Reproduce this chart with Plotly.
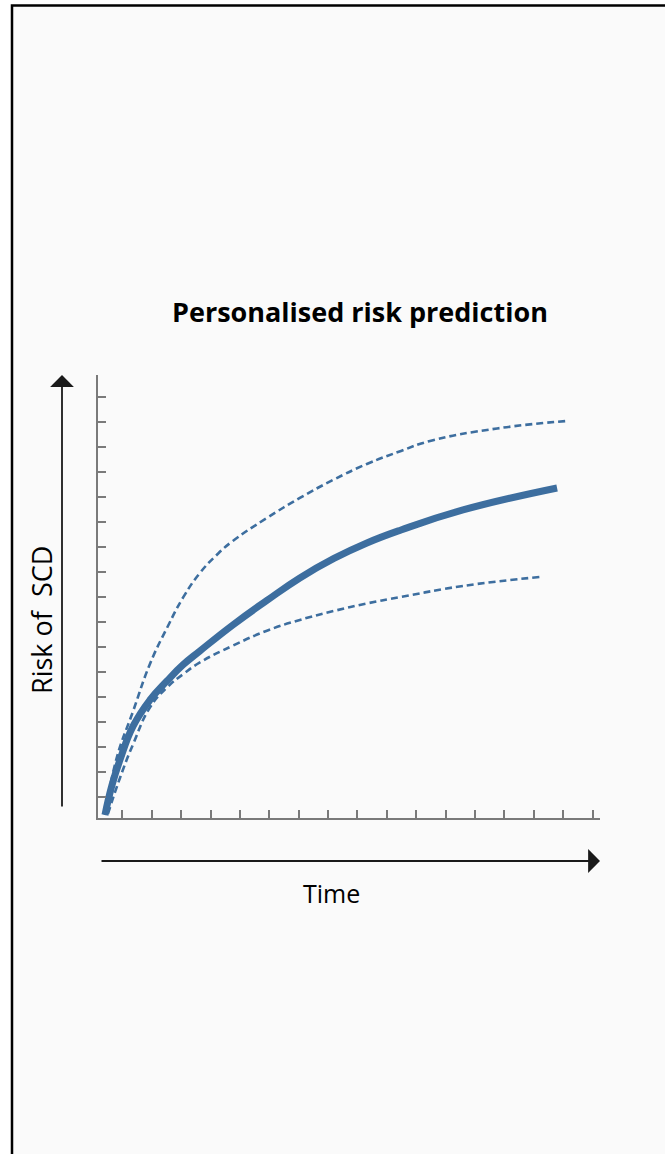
import plotly.graph_objects as go

# Time (tick units) and risk (tick units)
t_mid = [-0.59, -0.35, -0.08, 0.37, 0.94, 1.52, 2.06, 2.64, 3.76, 4.92, 6.04, 7.2, 8.32, 9.48, 11.59, 14.79]
r_mid = [-0.73, 0.47, 1.47, 2.83, 3.87, 4.63, 5.27, 5.83, 6.87, 7.85, 8.75, 9.53, 10.15, 10.67, 11.47, 12.35]

t_up = [-0.59, -0.19, 0.37, 0.94, 1.52, 2.08, 2.64, 3.21, 3.76, 4.92, 6.04, 7.17, 8.32, 9.48, 10.47, 12.75, 15.16]
r_up = [-0.73, 1.55, 3.43, 5.31, 6.75, 7.99, 8.95, 9.67, 10.23, 11.15, 11.95, 12.67, 13.31, 13.83, 14.23, 14.73, 15.03]

t_lo = [-0.49, -0.08, 0.37, 0.94, 1.52, 2.08, 2.64, 3.76, 4.92, 6.04, 7.2, 8.32, 9.48, 11.59, 14.21]
r_lo = [-0.69, 0.75, 2.11, 3.57, 4.37, 4.91, 5.37, 6.04, 6.64, 7.07, 7.43, 7.73, 7.99, 8.43, 8.79]

x_ticks = list(range(0, 17))
y_ticks = list(range(0, 17))

title_text = "Personalised risk prediction"
x_label = "Time"
y_label = "Risk of  SCD"

BLUE = "#3d6e9f"
AXIS = "#7a7a7a"
FONT = "'Open Sans', Lato, sans-serif"

# plot area sits at x 98..600, y 375..818 of the 665x1154 window
L, R, T, B = 98, 600, 375, 818
PW, PH = R - L, B - T

def px(x):
    return (x - L) / PW

def py(y):
    return (B - y) / PH

fig = go.Figure()
dash_line = dict(color=BLUE, width=2.6, dash="7px,4px", shape="spline", smoothing=1.3)
fig.add_trace(go.Scatter(x=t_up, y=r_up, mode="lines", line=dash_line, hoverinfo="skip"))
fig.add_trace(go.Scatter(x=t_lo, y=r_lo, mode="lines", line=dash_line, hoverinfo="skip"))
fig.add_trace(go.Scatter(x=t_mid, y=r_mid, mode="lines",
                         line=dict(color=BLUE, width=7, shape="spline", smoothing=1.3), hoverinfo="skip"))

fig.update_layout(
    width=665, height=1154, autosize=False,
    margin=dict(l=L, r=665 - R, t=T, b=1154 - B),
    paper_bgcolor="white", plot_bgcolor="#fafafa",
    showlegend=False,
    xaxis=dict(range=[-0.827, 16.25], showgrid=False, zeroline=False, showline=True,
               linecolor=AXIS, linewidth=2, ticks="inside", ticklen=8, tickwidth=1.5,
               tickcolor=AXIS, tickvals=x_ticks, showticklabels=False, fixedrange=True),
    yaxis=dict(range=[-0.852, 16.868], showgrid=False, zeroline=False, showline=True,
               linecolor=AXIS, linewidth=2, ticks="inside", ticklen=8, tickwidth=1.5,
               tickcolor=AXIS, tickvals=y_ticks, showticklabels=False, fixedrange=True),
    shapes=[
        dict(type="rect", xref="paper", yref="paper", x0=px(12), x1=px(700),
             y0=py(1200), y1=py(5.5), line=dict(color="black", width=2.5),
             fillcolor="#fafafa", layer="below"),
    ],
    annotations=[
        dict(text="<b>" + title_text + "</b>", xref="paper", yref="paper",
             x=px(359.5), y=py(311), showarrow=False,
             font=dict(family=FONT, size=27, color="black"), xanchor="center", yanchor="middle"),
        dict(text=x_label, xref="paper", yref="paper",
             x=px(331), y=py(893), showarrow=False,
             font=dict(family=FONT, size=25, color="black"), xanchor="center", yanchor="middle"),
        dict(text=y_label, xref="paper", yref="paper", textangle=-90,
             x=px(41), y=py(620), showarrow=False,
             font=dict(family=FONT, size=27, color="black"), xanchor="center", yanchor="middle"),
        dict(text="", xref="paper", yref="paper", x=px(62), y=py(375),
             ax=0, ay=433, axref="pixel", ayref="pixel", showarrow=True,
             arrowhead=1, arrowsize=2.2, arrowwidth=1.8, arrowcolor="#1a1a1a", standoff=0),
        dict(text="", xref="paper", yref="paper", x=px(600), y=py(861),
             ax=-500, ay=0, axref="pixel", ayref="pixel", showarrow=True,
             arrowhead=1, arrowsize=2.2, arrowwidth=1.8, arrowcolor="#1a1a1a", standoff=0),
    ],
)

fig.write_html("out.html", config={"displayModeBar": False},
               post_script="document.body.style.margin='0px';")
